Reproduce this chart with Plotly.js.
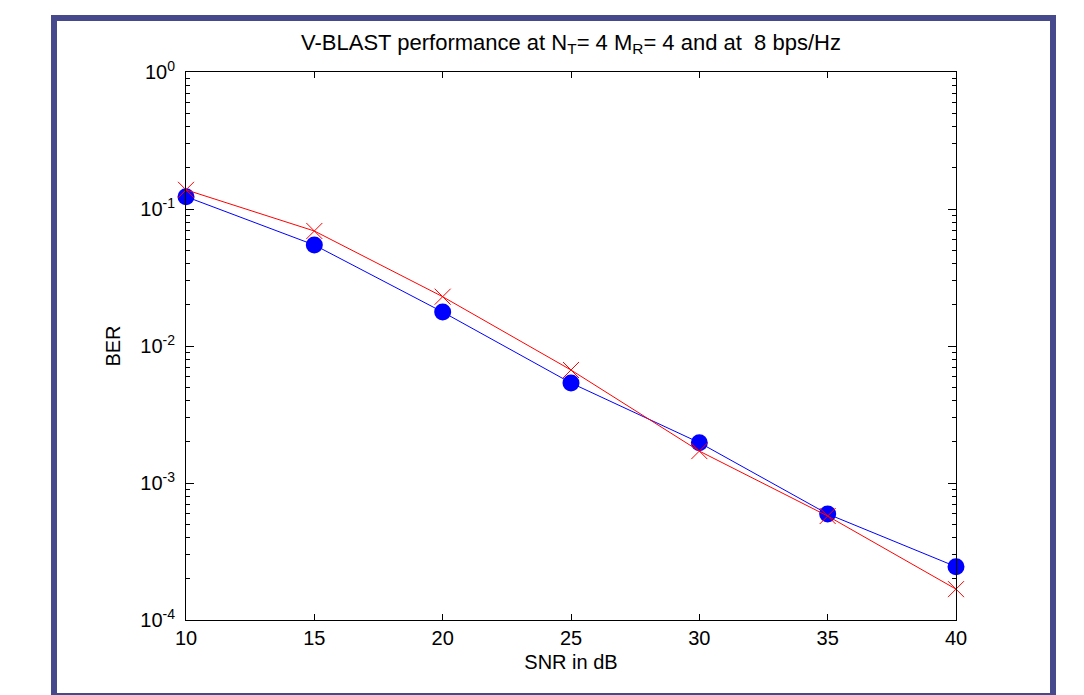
<!DOCTYPE html>
<html>
<head>
<meta charset="utf-8">
<script src="https://cdn.plot.ly/plotly-3.0.1.min.js"></script>
<style>
  html, body { margin: 0; padding: 0; width: 1084px; height: 695px; overflow: hidden; background: #fff; }
  #chart { width: 1084px; height: 695px; position: absolute; left: 0; top: 0; }
  #frame { position: absolute; left: 51px; top: 15px; width: 1005px; height: 684px;
           box-sizing: border-box; border: 6px solid #464a8c; pointer-events: none; }
</style>
</head>
<body>
<div id="chart"></div>
<div id="frame"></div>
<script>
// SNR values (dB)
const snr = [10, 15, 20, 25, 30, 35, 40];
// BER, blue filled-circle series
const berBlue = [0.123, 0.0546, 0.0177, 0.00537, 0.00197, 0.000594, 0.000245];
// BER, red x series
const berRed = [0.138, 0.0691, 0.0229, 0.00668, 0.00171, 0.000574, 0.000168];
// axis ticks
const xTicks = [10, 15, 20, 25, 30, 35, 40];
const yTickVals = [1, 0.1, 0.01, 0.001, 0.0001];
const yTickText = ['10<sup>0</sup>', '10<sup>-1</sup>', '10<sup>-2</sup>', '10<sup>-3</sup>', '10<sup>-4</sup>'];

const minorVals = [];
for (let e = -4; e < 0; e++) {
  for (let k = 2; k <= 9; k++) minorVals.push(k * Math.pow(10, e));
}

const font = "'Liberation Sans', Arial, sans-serif";

const traces = [
  {
    x: snr, y: berBlue, type: 'scatter', mode: 'lines+markers',
    line: { color: '#0000ff', width: 1 },
    marker: { symbol: 'circle', size: 17, color: '#0000ff' },
    cliponaxis: false
  },
  {
    x: snr, y: berRed, type: 'scatter', mode: 'lines+markers',
    line: { color: '#ff0000', width: 1 },
    marker: { symbol: 'x-thin-open', size: 16, color: '#ff0000', line: { color: '#ff0000', width: 1 } },
    cliponaxis: false
  }
];

const layout = {
  width: 1084, height: 695,
  paper_bgcolor: '#ffffff', plot_bgcolor: '#ffffff',
  showlegend: false,
  margin: { l: 186, r: 128, t: 72, b: 75 },
  font: { family: font, size: 20, color: '#000' },
  title: {
    text: 'V-BLAST performance at N<sub>T</sub>= 4 M<sub>R</sub>= 4 and at\u00a0 8 bps/Hz',
    font: { family: font, size: 22, color: '#000' },
    x: 0.5, xref: 'paper', xanchor: 'center',
    y: 1 - 42 / 695, yref: 'container', yanchor: 'middle'
  },
  xaxis: {
    range: [10, 40], tickmode: 'array', tickvals: xTicks, ticktext: xTicks.map(String),
    ticks: 'inside', ticklen: 6, tickcolor: '#000', tickwidth: 1,
    showline: true, linecolor: '#000', linewidth: 1, mirror: 'ticks',
    showgrid: false, zeroline: false, automargin: false,
    tickfont: { family: font, size: 20 },
    title: { text: 'SNR in dB', font: { family: font, size: 20 }, standoff: 6 }
  },
  yaxis: {
    type: 'log', range: [-4, 0], tickmode: 'array', tickvals: yTickVals, ticktext: yTickText,
    ticks: 'inside', ticklen: 8, tickcolor: '#000', tickwidth: 1,
    showline: true, linecolor: '#000', linewidth: 1, mirror: 'ticks',
    showgrid: false, zeroline: false, automargin: false,
    ticklabelstandoff: 6,
    minor: { tickmode: 'array', tickvals: minorVals, ticks: 'inside', ticklen: 4, tickcolor: '#000', tickwidth: 1, showgrid: false },
    tickfont: { family: font, size: 20 },
    title: { text: 'BER', font: { family: font, size: 20 }, standoff: 14 }
  }
};

Plotly.newPlot('chart', traces, layout, { displayModeBar: false });
</script>
</body>
</html>
